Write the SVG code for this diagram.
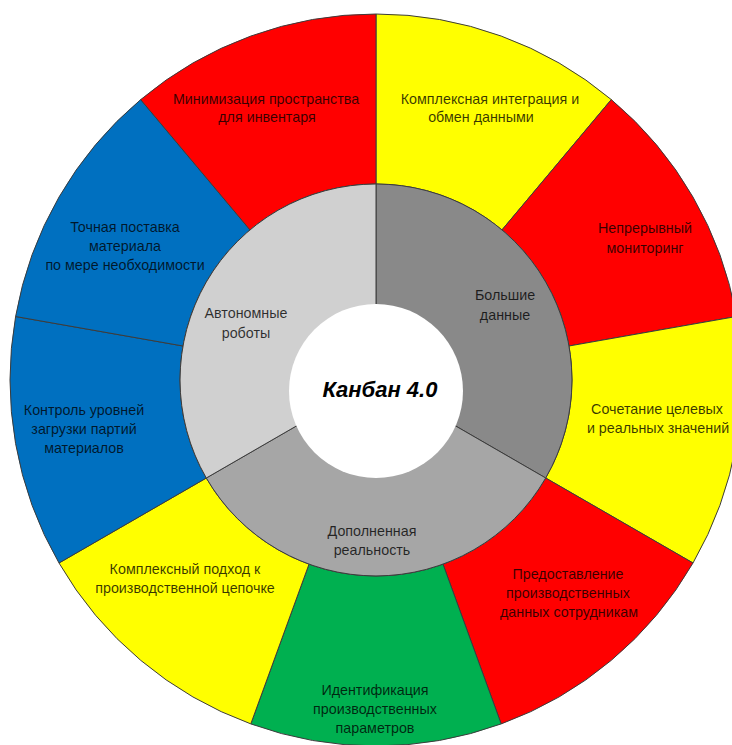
<svg xmlns="http://www.w3.org/2000/svg" width="732" height="745" viewBox="0 0 732 745">
  <style>
    .seg { stroke: #3c3c3c; stroke-width: 1; stroke-linejoin: round; }
    .red { fill: #FF0000; }
    .yellow { fill: #FFFF00; }
    .blue { fill: #0070C0; }
    .green { fill: #00B050; }
    .g1 { fill: #898989; }
    .g2 { fill: #A6A6A6; }
    .g3 { fill: #D0D0D0; }
    text { font-family: "Liberation Sans", Arial, sans-serif; font-size: 14.3px; text-anchor: middle; fill: #000; fill-opacity: 0.78; }
    .title { font-size: 22px; font-weight: bold; font-style: italic; fill-opacity: 1; }
  </style>
  <rect width="732" height="745" fill="#FFFFFF"/>

  <!-- outer ring: nine 40° sectors, centre (376,380), radii 196..366 -->
  <g id="outer-ring">
    <g id="n-integration">
      <path class="seg yellow" d="M376,14 A366,366 0 0 1 611.3,99.6 L502,229.9 A196,196 0 0 0 376,184 Z"/>
      <text x="490" y="104">Комплексная интеграция и</text>
      <text x="481" y="122">обмен данными</text>
    </g>
    <g id="n-monitoring">
      <path class="seg red" d="M611.3,99.6 A366,366 0 0 1 736.4,316.5 L569,346 A196,196 0 0 0 502,229.9 Z"/>
      <text x="645" y="233">Непрерывный</text>
      <text x="645" y="253">мониторинг</text>
    </g>
    <g id="n-targets">
      <path class="seg yellow" d="M736.4,316.5 A366,366 0 0 1 693,563 L545.7,478 A196,196 0 0 0 569,346 Z"/>
      <text x="657" y="414">Сочетание целевых</text>
      <text x="658" y="433">и реальных значений</text>
    </g>
    <g id="n-staff-data">
      <path class="seg red" d="M693,563 A366,366 0 0 1 501.2,723.9 L443,564.2 A196,196 0 0 0 545.7,478 Z"/>
      <text x="568" y="579">Предоставление</text>
      <text x="568" y="598">производственных</text>
      <text x="569" y="617">данных сотрудникам</text>
    </g>
    <g id="n-parameters">
      <path class="seg green" d="M501.2,723.9 A366,366 0 0 1 250.8,723.9 L309,564.2 A196,196 0 0 0 443,564.2 Z"/>
      <text x="375" y="695">Идентификация</text>
      <text x="375" y="714">производственных</text>
      <text x="375" y="733">параметров</text>
    </g>
    <g id="n-chain">
      <path class="seg yellow" d="M250.8,723.9 A366,366 0 0 1 59,563 L206.3,478 A196,196 0 0 0 309,564.2 Z"/>
      <text x="185" y="574">Комплексный подход к</text>
      <text x="185" y="593">производственной цепочке</text>
    </g>
    <g id="n-batches">
      <path class="seg blue" d="M59,563 A366,366 0 0 1 15.6,316.5 L183,346 A196,196 0 0 0 206.3,478 Z"/>
      <text x="84" y="415">Контроль уровней</text>
      <text x="84" y="434">загрузки партий</text>
      <text x="84" y="453">материалов</text>
    </g>
    <g id="n-jit">
      <path class="seg blue" d="M15.6,316.5 A366,366 0 0 1 140.7,99.6 L250,229.9 A196,196 0 0 0 183,346 Z"/>
      <text x="125" y="232">Точная поставка</text>
      <text x="125" y="251">материала</text>
      <text x="125" y="270">по мере необходимости</text>
    </g>
    <g id="n-inventory">
      <path class="seg red" d="M140.7,99.6 A366,366 0 0 1 376,14 L376,184 A196,196 0 0 0 250,229.9 Z"/>
      <text x="266" y="104">Минимизация пространства</text>
      <text x="267" y="122">для инвентаря</text>
    </g>
  </g>

  <!-- inner ring: three 120° sectors -->
  <g id="inner-ring">
    <g id="n-bigdata">
      <path class="seg g1" d="M376,380 L376,184 A196,196 0 0 1 545.7,478 Z"/>
      <text x="505" y="300">Большие</text>
      <text x="505" y="320">данные</text>
    </g>
    <g id="n-ar">
      <path class="seg g2" d="M376,380 L545.7,478 A196,196 0 0 1 206.3,478 Z"/>
      <text x="372" y="536">Дополненная</text>
      <text x="372" y="555">реальность</text>
    </g>
    <g id="n-robots">
      <path class="seg g3" d="M376,380 L206.3,478 A196,196 0 0 1 376,184 Z"/>
      <text x="246" y="318">Автономные</text>
      <text x="246" y="338">роботы</text>
    </g>
  </g>

  <!-- centre hub -->
  <g id="n-kanban">
    <circle cx="376" cy="391" r="87" fill="#FFFFFF"/>
    <text class="title" x="380" y="397">Канбан 4.0</text>
  </g>
</svg>
